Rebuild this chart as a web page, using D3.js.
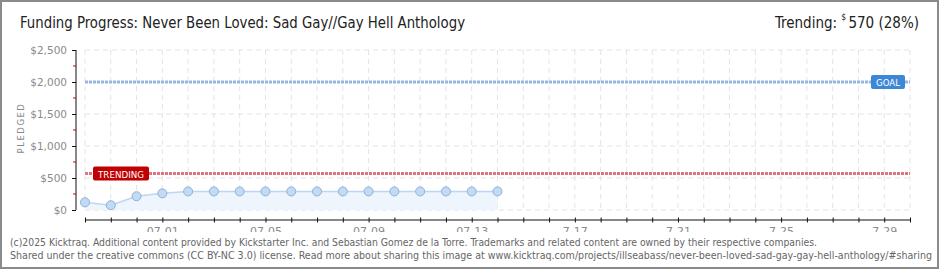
<!DOCTYPE html>
<html><head><meta charset="utf-8">
<script src="https://cdn.jsdelivr.net/npm/d3@7/dist/d3.min.js"></script>
<style>
html,body{margin:0;padding:0;background:#fff;}
svg{display:block;}
</style></head>
<body>
<svg id="c" width="940" height="270"></svg>
<script>
const title = "Funding Progress: Never Been Loved: Sad Gay//Gay Hell Anthology";
const dates = ["2025-06-28","2025-06-29","2025-06-30","2025-07-01","2025-07-02","2025-07-03","2025-07-04","2025-07-05","2025-07-06","2025-07-07","2025-07-08","2025-07-09","2025-07-10","2025-07-11","2025-07-12","2025-07-13","2025-07-14"];
const pledged = [120, 75, 215, 260, 290, 290, 290, 290, 290, 290, 290, 290, 290, 290, 290, 290, 290];
const goal = 2000;
const trending = 570;
const trendingPct = 28;
const xDomain = ["2025-06-28","2025-07-30"];
const xTickLabels = {"2025-07-01":"07-01","2025-07-05":"07-05","2025-07-09":"07-09","2025-07-13":"07-13","2025-07-17":"7-17","2025-07-21":"7-21","2025-07-25":"7-25","2025-07-29":"7-29"};
const yTicks = [0, 500, 1000, 1500, 2000, 2500];
const yMinorTicks = [250, 750, 1250, 1750, 2250];
const footer1 = "(c)2025 Kicktraq. Additional content provided by Kickstarter Inc. and Sebastian Gomez de la Torre. Trademarks and related content are owned by their respective companies.";
const footer2 = "Shared under the creative commons (CC BY-NC 3.0) license. Read more about sharing this image at www.kicktraq.com/projects/illseabass/never-been-loved-sad-gay-gay-hell-anthology/#sharing";

const parse = d3.utcParse("%Y-%m-%d");
const fmt = d3.utcFormat("%Y-%m-%d");
const svg = d3.select("#c");
const NARROW = "'Liberation Sans Narrow','DejaVu Sans Condensed',sans-serif";

// border
svg.append("rect").attr("x",1).attr("y",1).attr("width",937).attr("height",267)
  .attr("fill","#fff").attr("stroke","#8a8a8a").attr("stroke-width",2);

// title
svg.append("text").attr("x",20).attr("y",28).attr("font-family",NARROW)
  .attr("font-size",15.5).attr("fill","#222")
  .attr("textLength",445).attr("lengthAdjust","spacingAndGlyphs").text(title);
const trText = svg.append("text").attr("x",775).attr("y",28).attr("font-family",NARROW).attr("font-size",15)
  .attr("fill","#222").text("Trending:");
const numText = svg.append("text").attr("x",919).attr("y",28).attr("text-anchor","end").attr("font-family",NARROW)
  .attr("font-size",15).attr("fill","#222").text(trending + " (" + trendingPct + "%)");
// place the small superscript "$" in the gap between the two texts
const trEnd = trText.node().getBBox().x + trText.node().getBBox().width;
const numStart = numText.node().getBBox().x;
const dollar = svg.append("text").attr("y",20).attr("font-family",NARROW).attr("font-size",8.5)
  .attr("fill","#222").text("$");
const dw = dollar.node().getBBox().width;
dollar.attr("x", (trEnd + numStart)/2 - dw/2 + 1);

const x = d3.scaleUtc().domain(xDomain.map(parse)).range([85, 910]);
const y = d3.scaleLinear().domain([0, 2500]).range([210, 50]);

const defs = svg.append("defs");
defs.append("clipPath").attr("id","clipAll").append("rect")
  .attr("x",0).attr("y",0).attr("width",940).attr("height",232);

const g = svg.append("g").attr("clip-path","url(#clipAll)");

// grid
const days = d3.utcDay.range(parse(xDomain[0]), d3.utcDay.offset(parse(xDomain[1]),1));
g.append("g").selectAll("line").data(days).join("line")
  .attr("x1",d=>x(d)).attr("x2",d=>x(d)).attr("y1",y(2500)).attr("y2",y(0))
  .attr("stroke","#e4e4e4").attr("stroke-dasharray","5,4");
g.append("g").selectAll("line").data(yTicks).join("line")
  .attr("x1",x(parse(xDomain[0]))).attr("x2",x(parse(xDomain[1]))).attr("y1",d=>y(d)).attr("y2",d=>y(d))
  .attr("stroke","#e4e4e4").attr("stroke-dasharray","5,4");

// data
const data = dates.map((d,i)=>({date:parse(d), v:pledged[i]}));
g.append("path").datum(data)
  .attr("d", d3.area().x(d=>x(d.date)).y0(y(0)).y1(d=>y(d.v)))
  .attr("fill","#eef5fd");
g.append("path").datum(data)
  .attr("d", d3.line().x(d=>x(d.date)).y(d=>y(d.v)))
  .attr("fill","none").attr("stroke","#bcd6f2").attr("stroke-width",1.5);

// goal & trending lines
function refLine(val, col) {
  g.append("line").attr("x1",x(parse(xDomain[0]))).attr("x2",x(parse(xDomain[1])))
    .attr("y1",y(val)).attr("y2",y(val))
    .attr("stroke",col).attr("stroke-width",3).attr("stroke-dasharray","3,1");
}
refLine(goal, "#95b8e2");
refLine(trending, "#e0757d");

g.append("g").selectAll("circle").data(data).join("circle")
  .attr("cx",d=>x(d.date)).attr("cy",d=>y(d.v)).attr("r",4.5)
  .attr("fill","#c2dbf5").attr("stroke","#90b0d6").attr("stroke-width",1);

// badges
function badge(cx, val, w, col, label, tl) {
  const bg = g.append("g");
  bg.append("rect").attr("x",cx).attr("y",y(val)-7).attr("width",w).attr("height",14)
    .attr("rx",2).attr("fill",col);
  bg.append("text").attr("x",cx+(w-tl)/2).attr("y",y(val)+4)
    .attr("font-family","'DejaVu Sans',sans-serif").attr("font-size",9.5).attr("fill","#fff")
    .attr("textLength",tl).attr("lengthAdjust","spacingAndGlyphs").text(label);
}
badge(871, goal, 34, "#3c88d6", "GOAL", 24);
badge(93, trending, 56, "#c00000", "TRENDING", 46);

// y axis
const yAxis = d3.axisLeft(y).tickValues(yTicks).tickSize(4).tickPadding(5)
  .tickFormat(d=>"$"+d3.format(",")(d));
const ya = g.append("g").attr("transform","translate(76,0)").call(yAxis);
ya.select(".domain").attr("stroke","#111").attr("d","M0,"+y(2500)+"V"+y(0));
ya.selectAll(".tick line").attr("stroke","#111");
ya.selectAll(".tick text").attr("font-family","'DejaVu Sans',sans-serif").attr("font-size",10.5)
  .attr("fill","#8a8a8a");
ya.append("g").selectAll("line").data(yMinorTicks).join("line")
  .attr("x1",-3).attr("x2",0).attr("y1",d=>y(d)).attr("y2",d=>y(d)).attr("stroke","#d00000");

svg.append("text").attr("transform","translate(24,128) rotate(-90)").attr("text-anchor","middle")
  .attr("font-family","'DejaVu Sans',sans-serif").attr("font-size",8.5).attr("letter-spacing",1.5)
  .attr("fill","#8a8a8a").text("PLEDGED");

// x axis
const xAxis = d3.axisBottom(x).tickValues(days).tickSize(0).tickPadding(7)
  .tickFormat(d=>xTickLabels[fmt(d)] || "");
const xa = g.append("g").attr("transform","translate(0,220)").call(xAxis);
xa.select(".domain").attr("stroke","#111").attr("d","M"+x(parse(xDomain[0]))+",0H"+x(parse(xDomain[1])));
xa.selectAll(".tick").append("line").attr("y1",-2.5).attr("y2",2.5).attr("stroke","#111");
xa.selectAll(".tick text").attr("font-family","'DejaVu Sans',sans-serif").attr("font-size",11)
  .attr("fill","#8a8a8a");

// footer
svg.append("text").attr("x",10).attr("y",246).attr("font-family",NARROW).attr("font-size",10.5)
  .attr("fill","#666").attr("textLength",807).attr("lengthAdjust","spacingAndGlyphs").text(footer1);
svg.append("text").attr("x",10).attr("y",259).attr("font-family",NARROW).attr("font-size",10.5)
  .attr("fill","#666").attr("textLength",922).attr("lengthAdjust","spacingAndGlyphs").text(footer2);
</script>
</body></html>
